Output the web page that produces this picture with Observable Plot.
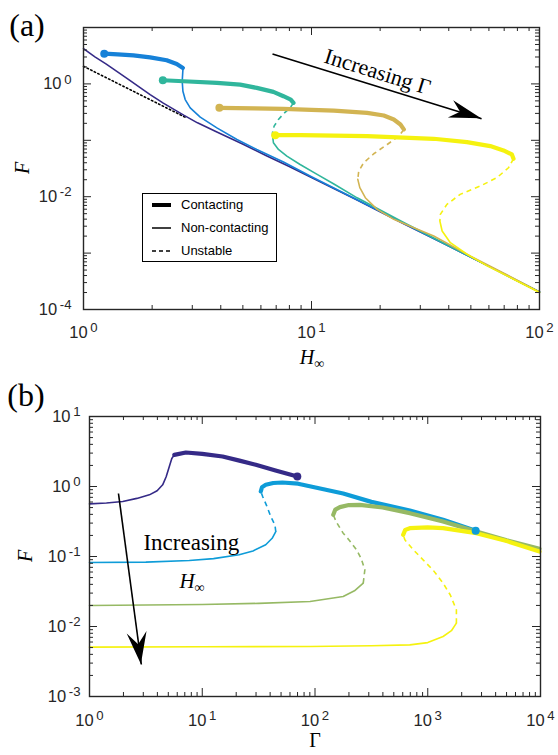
<!DOCTYPE html>
<html><head><meta charset="utf-8">
<script src="https://cdn.jsdelivr.net/npm/d3@7"></script>
<script src="https://cdn.jsdelivr.net/npm/@observablehq/plot@0.6"></script>
<style>
body{margin:0;background:#fff;}
#wrap{position:relative;width:558px;height:755px;overflow:hidden;background:#fff;font-family:"Liberation Sans",Arial,sans-serif;}
.chart{position:absolute;left:0;}
.lab{position:absolute;font-family:"Liberation Serif","DejaVu Serif",serif;color:#000;white-space:nowrap;line-height:1;}
.legend{position:absolute;left:142px;top:193px;width:133px;height:67px;border:1.3px solid #000;background:#fff;font-size:13px;color:#000;}
.legend div{position:absolute;left:38px;line-height:1;}
.legend svg{position:absolute;left:0;top:0;}
</style></head><body><div id="wrap"></div><script>
// ---------- Panel (a): F vs H_inf, one curve per Gamma ----------
const aColors = ["#352a87", "#1681d8", "#30b69c", "#d2b452", "#f5f20f"];
// Purple: reference non-contacting curve
const aBase = [[1,4.22],[1.122,3.02],[1.259,2.24],[1.40,1.67],[1.585,1.175],[1.778,0.851],[1.96,0.647],[2.239,0.457],[2.75,0.279],[3.162,0.204],[3.846,0.140],[5.012,0.0851],[6.31,0.0537],[7.943,0.0347],[10,0.0219],[15.85,0.00871],[25.12,0.00339],[39.81,0.00135],[63.1,0.000525],[100,0.000204]];
const aAsymptote = [[1,2.05],[2.8,0.255]];
// Gamma 1 (blue)
const a1Contact = [[1.233,3.44],[1.413,3.33],[1.656,3.21],[1.959,2.96],[2.317,2.62],[2.564,2.26],[2.729,1.92]];
const a1Unstable = [];
const a1Free = [[2.729,1.92],[2.729,1.79],[2.710,1.114],[2.729,0.741],[2.793,0.528],[2.938,0.376],[3.251,0.257],[3.846,0.166],[4.710,0.1035],[5.754,0.0689],[7.534,0.0411],[10,0.0226],[15.85,0.00881],[25.12,0.00343],[39.81,0.00135],[63.1,0.000525],[100,0.000204]];
// Gamma 2 (teal)
const a2Contact = [[2.228,1.161],[2.748,1.114],[3.846,1.042],[4.864,0.973],[5.754,0.849],[6.808,0.721],[7.534,0.605],[8.110,0.528],[8.337,0.461]];
const a2Unstable = [[8.337,0.461],[8.054,0.376],[7.534,0.294],[7.161,0.234],[6.855,0.178],[6.745,0.136],[6.745,0.123]];
const a2Free = [[6.745,0.123],[6.808,0.0904],[7.161,0.0689],[7.798,0.0525],[8.913,0.0372],[10.54,0.0251],[12.59,0.0166],[15.85,0.00955],[25.12,0.00355],[39.81,0.00136],[63.1,0.000531],[100,0.000204]];
// Gamma 3 (gold)
const a3Contact = [[3.945,0.376],[5.623,0.367],[7.534,0.361],[10,0.347],[12.53,0.336],[17.54,0.307],[20.75,0.275],[22.96,0.234],[24.55,0.191],[25.41,0.156]];
const a3Unstable = [[25.41,0.156],[24.15,0.1186],[21.48,0.0843],[18.75,0.0577],[16.94,0.0400],[16.11,0.0284],[15.96,0.0203]];
const a3Free = [[15.96,0.0203],[16.29,0.01445],[17.22,0.00959],[19.41,0.00597],[22.96,0.00397],[28.12,0.00282],[34.36,0.00201],[50.12,0.000871],[70.79,0.000427],[100,0.000204]];
// Gamma 4 (yellow)
const a4Contact = [[6.934,0.1233],[8.954,0.1233],[17.54,0.1186],[34.36,0.1064],[48.08,0.0929],[60.81,0.0789],[69.50,0.0661],[75.68,0.0561],[76.91,0.0471]];
const a4Unstable = [[76.91,0.0471],[73.11,0.0326],[65.01,0.0217],[54.95,0.01545],[44.87,0.0110],[39.26,0.00731],[36.73,0.00486],[36.56,0.00371]];
const a4Free = [[36.56,0.00371],[37.41,0.00247],[40.64,0.00153],[48.08,0.000955],[58.88,0.000593],[76.91,0.000344],[100,0.0002]];
const aArrow = [[6.745,3.396],[55.72,0.2404]];   // tail, tip
const aArrowText = [[19.5,1.63]];

// ---------- Panel (b): F vs Gamma, one curve per H_inf ----------
const bColors = ["#352a87", "#0e9cd8", "#96b964", "#f5f20f"];
const b1Free = [[1,0.565],[1.413,0.582],[1.972,0.611],[2.630,0.676],[3.396,0.760],[3.981,0.871],[4.457,1.057],[4.786,1.380],[5.105,1.932],[5.370,2.512],[5.649,2.831]];
const b1Unstable = [];
const b1Contact = [[5.649,2.831],[7.161,3.062],[10,2.931],[15.14,2.685],[21.38,2.344],[29.85,2.042],[44.67,1.698],[69.66,1.390]];
const b2Free = [[1,0.0820],[3.162,0.0832],[7.674,0.0877],[12.59,0.0933],[21.23,0.1057],[28.18,0.1202],[36.56,0.1469],[41.69,0.182],[44.87,0.2275]];
const b2Unstable = [[44.87,0.2275],[44.16,0.2818],[40.55,0.3724],[37.15,0.537],[34.28,0.724],[33.04,0.849]];
const b2Contact = [[33.04,0.849],[33.88,0.977],[36.56,1.057],[42.66,1.122],[51.29,1.140],[70.79,1.096],[108.4,0.946],[177.8,0.794],[316.2,0.603],[693.4,0.454],[1368,0.334],[2661,0.233]];
const b3Free = [[1,0.01995],[10,0.02065],[31.62,0.0214],[90.36,0.02275],[177.8,0.02685],[223.9,0.03236],[267.9,0.0416]];
const b3Unstable = [[267.9,0.0416],[276.7,0.0646],[257.0,0.0933],[233.9,0.1245],[199.5,0.1738],[177.8,0.2153],[154.9,0.309],[145.2,0.3936]];
const b3Contact = [[145.2,0.3936],[151.4,0.4677],[166.3,0.507],[199.5,0.543],[250.0,0.547],[398.1,0.501],[693.4,0.416],[1368,0.316],[2698,0.2275],[5012,0.170],[9795,0.1288]];
const b4Free = [[1,0.00507],[10,0.00513],[90.36,0.00518],[316.2,0.00531],[693.4,0.00547],[1000,0.00589],[1368,0.00719],[1622,0.00871],[1795,0.01117]];
const b4Unstable = [[1795,0.01117],[1795,0.0173],[1585,0.0282],[1368,0.0416],[1122,0.0631],[909.9,0.0895],[741.3,0.1259],[626.6,0.173],[605.3,0.204]];
const b4Contact = [[605.3,0.204],[631.0,0.240],[693.4,0.254],[1000,0.260],[1368,0.254],[2698,0.2153],[5012,0.166],[9795,0.1178]];
const bArrow = [[1.807,0.794],[2.884,0.002864]];
const bTextInc = [[8.0,0.158]];

// ---------- Ticks ----------
const aXLabels = [1, 10, 100];
const aYLabels = [1e-4, 1e-2, 1];
const aYDecades = [1e-4, 1e-3, 1e-2, 1e-1, 1, 10];
const bXLabels = [1, 10, 100, 1000, 10000];
const bYLabels = [1e-3, 1e-2, 1e-1, 1, 10];
const mult = [2, 3, 4, 5, 6, 7, 8, 9];
const minorsOf = decs => decs.slice(0, -1).flatMap(d => mult.map(m => m * d));

const ns = "http://www.w3.org/2000/svg";
const INK = "#262626";
const TICKFONT = 16.5;
const fmt = d => "10^" + Math.round(Math.log10(d));

function headMark(arrow, L, W, notch) {
  return (index, scales) => {
    const sx = scales.x, sy = scales.y;
    const [tail, tip] = arrow;
    const x0 = sx(tail[0]), y0 = sy(tail[1]), x1 = sx(tip[0]), y1 = sy(tip[1]);
    const dx = x1 - x0, dy = y1 - y0, d = Math.hypot(dx, dy);
    const ux = dx / d, uy = dy / d, px = -uy, py = ux;
    const bx = x1 - ux * L, by = y1 - uy * L;
    const pts = [[x1, y1], [bx + px * W, by + py * W], [x1 - ux * notch, y1 - uy * notch], [bx - px * W, by - py * W]];
    const g = document.createElementNS(ns, "polygon");
    g.setAttribute("points", pts.map(p => p.join(",")).join(" "));
    g.setAttribute("fill", "#000");
    return g;
  };
}

function frameTicks(xDec, xMin, yDec, yMin, innerW, innerH) {
  const M = 8, m = 4;
  const s = {stroke: INK, strokeWidth: 1};
  return [
    Plot.tickX(xDec, {x: d => d, insetTop: innerH - M, ...s}),
    Plot.tickX(xDec, {x: d => d, insetBottom: innerH - M, ...s}),
    Plot.tickX(xMin, {x: d => d, insetTop: innerH - m, ...s}),
    Plot.tickX(xMin, {x: d => d, insetBottom: innerH - m, ...s}),
    Plot.tickY(yDec, {y: d => d, insetRight: innerW - M, ...s}),
    Plot.tickY(yDec, {y: d => d, insetLeft: innerW - M, ...s}),
    Plot.tickY(yMin, {y: d => d, insetRight: innerW - m, ...s}),
    Plot.tickY(yMin, {y: d => d, insetLeft: innerW - m, ...s})
  ];
}

function curve(data, color, kind) {
  if (!data.length) return null;
  const o = {x: d => d[0], y: d => d[1], stroke: color, strokeLinejoin: "round", strokeLinecap: "round"};
  if (kind === "c") return Plot.line(data, {...o, strokeWidth: 4.2});
  if (kind === "u") return Plot.line(data, {...o, strokeWidth: 1.6, strokeDasharray: "5,4", strokeLinecap: "butt"});
  return Plot.line(data, {...o, strokeWidth: 1.6});
}

function supify(svg) {
  svg.querySelectorAll("text").forEach(t => {
    const m = /^10\^(-?\d+)$/.exec(t.textContent);
    if (!m) return;
    t.textContent = "";
    const a = document.createElementNS(ns, "tspan"); a.textContent = "10"; t.appendChild(a);
    const b = document.createElementNS(ns, "tspan"); b.textContent = m[1];
    b.setAttribute("dy", "-0.42em"); b.setAttribute("dx", "0.2em"); b.setAttribute("font-size", "80%");
    t.appendChild(b);
  });
}

const wrap = document.getElementById("wrap");

// ----- Panel (a) -----
const A = {w: 558, h: 370, l: 83, r: 19, t: 27, b: 61};
const aiw = A.w - A.l - A.r, aih = A.h - A.t - A.b;
const aCurves = [
  [a1Contact, a1Unstable, a1Free],
  [a2Contact, a2Unstable, a2Free],
  [a3Contact, a3Unstable, a3Free],
  [a4Contact, a4Unstable, a4Free]
];
const aMarks = [
  Plot.line(aAsymptote, {x: d => d[0], y: d => d[1], stroke: "#000", strokeWidth: 1.6, strokeDasharray: "1.5,2.5"}),
  curve(aBase, aColors[0], "f")
];
aCurves.forEach((c, i) => {
  const col = aColors[i + 1];
  aMarks.push(curve(c[2], col, "f"), curve(c[1], col, "u"), curve(c[0], col, "c"),
    Plot.dot([c[0][0]], {x: d => d[0], y: d => d[1], r: 4, fill: col, stroke: null}));
});
aMarks.push(
  Plot.link([aArrow], {x1: d => d[0][0], y1: d => d[0][1], x2: d => d[1][0], y2: d => d[1][1], stroke: "#000", strokeWidth: 1.6}),
  headMark(aArrow, 32, 9, 22),
  Plot.text(aArrowText, {x: d => d[0], y: d => d[1], text: () => "Increasing \u0393", rotate: 17.3, fontFamily: "Liberation Serif, DejaVu Serif, serif", fontSize: 22, fill: "#000"}),
  ...frameTicks(aXLabels, minorsOf(aXLabels), aYDecades, minorsOf(aYDecades), aiw, aih),
  Plot.frame({stroke: INK, strokeWidth: 1.4}),
  Plot.text(aXLabels, {x: d => d, frameAnchor: "bottom", dy: 28, lineAnchor: "bottom", text: fmt, fill: INK, fontSize: TICKFONT}),
  Plot.text(aYLabels, {y: d => d, frameAnchor: "left", dx: -12, textAnchor: "end", text: fmt, fill: INK, fontSize: TICKFONT})
);
const chartA = Plot.plot({
  width: A.w, height: A.h, marginLeft: A.l, marginRight: A.r, marginTop: A.t, marginBottom: A.b,
  style: {fontFamily: "Liberation Sans, Arial, sans-serif", fontSize: "16px", background: "white", overflow: "visible"},
  x: {type: "log", domain: [1, 100], axis: null, label: null},
  y: {type: "log", domain: [1e-4, 10], axis: null, label: null},
  marks: aMarks.filter(Boolean)
});
supify(chartA);
const divA = document.createElement("div"); divA.className = "chart"; divA.style.top = "0px"; divA.appendChild(chartA); wrap.appendChild(divA);

// ----- Panel (b) -----
const B = {w: 558, h: 385, l: 89, r: 18, t: 46, b: 59};
const biw = B.w - B.l - B.r, bih = B.h - B.t - B.b;
const bCurves = [
  [b1Contact, b1Unstable, b1Free],
  [b2Contact, b2Unstable, b2Free],
  [b3Contact, b3Unstable, b3Free],
  [b4Contact, b4Unstable, b4Free]
];
const bMarks = [];
bCurves.forEach((c, i) => {
  const col = bColors[i];
  bMarks.push(curve(c[2], col, "f"), curve(c[1], col, "u"), curve(c[0], col, "c"));
});
bMarks.push(
  Plot.dot([b1Contact[b1Contact.length - 1]], {x: d => d[0], y: d => d[1], r: 4, fill: bColors[0], stroke: null}),
  Plot.dot([b2Contact[b2Contact.length - 1]], {x: d => d[0], y: d => d[1], r: 4, fill: bColors[1], stroke: null}),
  Plot.link([bArrow], {x1: d => d[0][0], y1: d => d[0][1], x2: d => d[1][0], y2: d => d[1][1], stroke: "#000", strokeWidth: 1.6}),
  headMark(bArrow, 32, 10, 20),
  Plot.text(bTextInc, {x: d => d[0], y: d => d[1], text: () => "Increasing", fontFamily: "Liberation Serif, DejaVu Serif, serif", fontSize: 23, fill: "#000"}),
  ...frameTicks(bXLabels, minorsOf(bXLabels), bYLabels, minorsOf(bYLabels), biw, bih),
  Plot.frame({stroke: INK, strokeWidth: 1.4}),
  Plot.text(bXLabels, {x: d => d, frameAnchor: "bottom", dy: 29, lineAnchor: "bottom", text: fmt, fill: INK, fontSize: TICKFONT}),
  Plot.text(bYLabels, {y: d => d, frameAnchor: "left", dx: -9, textAnchor: "end", text: fmt, fill: INK, fontSize: TICKFONT})
);
const chartB = Plot.plot({
  width: B.w, height: B.h, marginLeft: B.l, marginRight: B.r, marginTop: B.t, marginBottom: B.b,
  style: {fontFamily: "Liberation Sans, Arial, sans-serif", fontSize: "16px", background: "white", overflow: "visible"},
  x: {type: "log", domain: [1, 1e4], axis: null, label: null},
  y: {type: "log", domain: [1e-3, 10], axis: null, label: null},
  marks: bMarks.filter(Boolean)
});
supify(chartB);
const divB = document.createElement("div"); divB.className = "chart"; divB.style.top = "370px"; divB.appendChild(chartB); wrap.appendChild(divB);

// ----- Labels (HTML) -----
function label(html, left, top, size, extra) {
  const d = document.createElement("div"); d.className = "lab";
  d.innerHTML = html; d.style.left = left + "px"; d.style.top = top + "px"; d.style.fontSize = size + "px";
  d.style.transform = extra || "translate(-50%,-50%)";
  wrap.appendChild(d);
}
label("(a)", 27, 25, 32);
label("(b)", 26, 395, 32);
label("<i>F</i>", 22, 168, 20, "translate(-50%,-50%) rotate(-90deg)");
label("<i>F</i>", 25, 556, 20, "translate(-50%,-50%) rotate(-90deg)");
label("<i>H</i><span style=\"font-size:14px;position:relative;top:4px\">\u221e</span>", 312, 357, 20);
label("\u0393", 315, 740, 20);
label("<i>H</i><span style=\"font-size:14px;position:relative;top:4px\">\u221e</span>", 192, 581, 21);

// ----- Legend (panel a) -----
const lg = document.createElement("div"); lg.className = "legend";
lg.innerHTML = `<svg width="40" height="67">
<line x1="9" x2="28" y1="11" y2="11" stroke="#000" stroke-width="4"/>
<line x1="9" x2="28" y1="34" y2="34" stroke="#000" stroke-width="1.5"/>
<line x1="9" x2="28" y1="57" y2="57" stroke="#000" stroke-width="1.5" stroke-dasharray="4,3"/>
</svg><div style="top:4px">Contacting</div><div style="top:27px">Non-contacting</div><div style="top:50px">Unstable</div>`;
wrap.appendChild(lg);
</script></body></html>
